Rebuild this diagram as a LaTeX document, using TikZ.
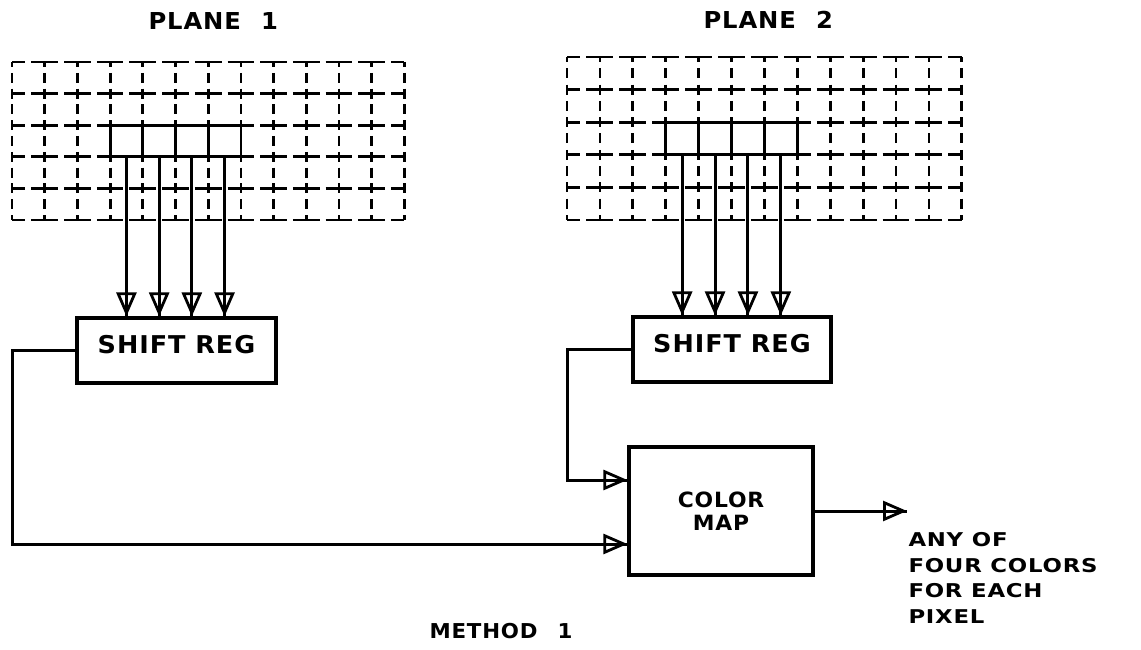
\documentclass[tikz,border=0pt]{standalone}
\usepackage{fontspec}
\newfontfamily\plotfont[FakeStretch=1.04,LetterSpace=4]{DejaVu Sans}
\newfontfamily\plotwide[FakeStretch=1.2,LetterSpace=4]{DejaVu Sans}
\usetikzlibrary{arrows.meta}
\begin{document}
\begin{tikzpicture}[x=1pt,y=-1pt,
  line width=3pt,
  box/.style={draw, rectangle, inner sep=0pt, line width=3.2pt},
  lbl/.style={inner sep=0pt, anchor=base west},
  arr/.style={-{Triangle[open,length=24pt,width=20pt,line width=2.8pt]}, postaction={draw,arrows=-}},
  hdash/.style={dash pattern=on #1pt off 6pt},
  vdash/.style={dash pattern=on 10pt off #1pt, dash phase=5pt},
  grid/.style={line width=2.8pt},
]
\useasboundingbox (0,0) rectangle (1141,650);

% ---------- left plane grid ----------
\foreach \j in {0,...,5}
  \draw[grid, hdash=26.7, dash phase=13.35pt] (12,{62+31.6*\j}) -- (404.4,{62+31.6*\j});
\foreach \i in {0,...,12}
  \draw[grid, vdash=5.8] ({12+32.7*\i},62) -- ({12+32.7*\i},220);
\draw[grid] (110.1,125.2) rectangle (240.9,156.8);
\foreach \i in {4,5,6}
  \draw[grid] ({12+32.7*\i},125.2) -- ({12+32.7*\i},156.8);

% ---------- right plane grid ----------
\foreach \j in {0,...,5}
  \draw[grid, hdash=26.9, dash phase=13.45pt] (567,{57+32.6*\j}) -- (961.8,{57+32.6*\j});
\foreach \i in {0,...,12}
  \draw[grid, vdash=6.3] ({567+32.9*\i},57) -- ({567+32.9*\i},220);
\draw[grid] (665.7,122.2) rectangle (797.3,154.8);
\foreach \i in {4,5,6}
  \draw[grid] ({567+32.9*\i},122.2) -- ({567+32.9*\i},154.8);

% ---------- labels ----------
\node[lbl, font=\plotfont\bfseries\fontsize{23.3}{26}\selectfont] (p1) at (147,30) {PLANE\hspace{20pt}1};
\node[lbl, font=\plotfont\bfseries\fontsize{23.3}{26}\selectfont] (p2) at (702,29) {PLANE\hspace{20pt}2};
\node[lbl, font=\plotfont\bfseries\fontsize{20.5}{24}\selectfont] (m1) at (428,638) {METHOD\hspace{20pt}1};

% ---------- blocks ----------
\node[box, minimum width=199pt, minimum height=65pt,
      font=\plotfont\bfseries\fontsize{24.5}{28}\selectfont, text height=18pt, text depth=13pt]
      (sr1) at (176.5,350.5) {SHIFT REG};
\node[box, minimum width=198pt, minimum height=65pt,
      font=\plotfont\bfseries\fontsize{24.5}{28}\selectfont, text height=18pt, text depth=13pt]
      (sr2) at (732,349.5) {SHIFT REG};
\node[box, minimum width=184pt, minimum height=128pt, align=center,
      font=\plotfont\bfseries\fontsize{21}{22.5}\selectfont]
      (cm) at (721,511) {COLOR\\MAP};

% ---------- plane-to-register arrows ----------
\foreach \k in {0,...,3} {
  \coordinate (la\k) at ({12+32.7*(3.5+\k)},156.8);
  \draw[arr] (la\k) -- (la\k |- sr1.north);
  \coordinate (ra\k) at ({567+32.9*(3.5+\k)},154.8);
  \draw[arr] (ra\k) -- (ra\k |- sr2.north);
}

% ---------- register-to-map wires ----------
\coordinate (c1) at (12,544);
\draw[arr] (sr1.west) -| (c1) -- (c1 -| cm.west);
\coordinate (c2) at (567,480);
\draw[arr] (sr2.west) -| (c2) -- (c2 -| cm.west);

% ---------- output ----------
\coordinate (out) at (907,511);
\draw[arr] (cm.east) -- (out);
\node[inner sep=0pt, anchor=north west, align=left,
      font=\plotwide\bfseries\fontsize{19}{25.5}\selectfont] (txt) at (907,531)
      {ANY OF\\FOUR COLORS\\FOR EACH\\PIXEL};
\end{tikzpicture}
\end{document}
